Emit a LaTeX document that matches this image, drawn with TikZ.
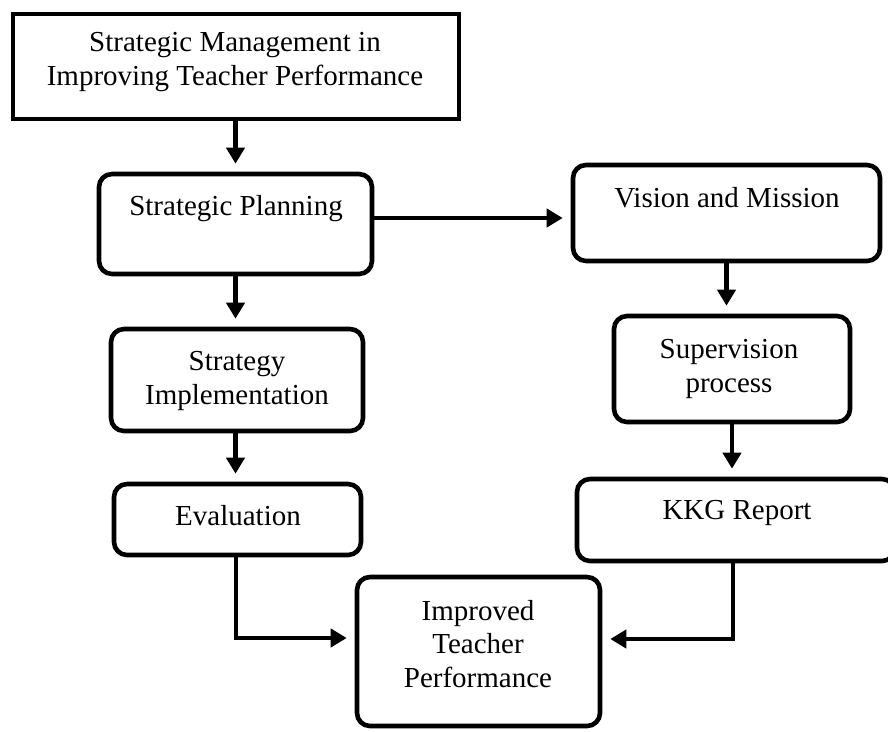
\documentclass[tikz,border=0pt]{standalone}
\usepackage{fontspec}
\setmainfont{Liberation Serif}
\usetikzlibrary{arrows.meta}
\tikzset{
  box/.style={draw, line width=4.6pt, rounded corners=13pt, inner sep=0pt},
  sbox/.style={draw, line width=4.6pt, inner sep=0pt},
  txt/.style={align=center, inner sep=0pt, anchor=base, font=\fontsize{29pt}{33.5pt}\selectfont},
  arr/.style={line width=4.6pt, -{Triangle[length=16pt,width=18pt]}, shorten >=8pt}
}
\begin{document}
\begin{tikzpicture}[x=1pt,y=-1pt]
\useasboundingbox (0,0) rectangle (888,731);
% boxes
\node[sbox, minimum width=446pt, minimum height=105pt] (top) at (236,66.5) {};
\node[box, minimum width=273pt, minimum height=100pt] (sp) at (235.5,224) {};
\node[box, minimum width=252pt, minimum height=102pt] (si) at (237,380) {};
\node[box, minimum width=247pt, minimum height=71pt] (ev) at (237.5,519.5) {};
\node[box, minimum width=307pt, minimum height=96pt] (vm) at (726.5,213) {};
\node[box, minimum width=236pt, minimum height=106pt] (sup) at (732,369) {};
\node[box, minimum width=318pt, minimum height=82pt] (kkg) at (736,520) {};
\node[box, minimum width=243pt, minimum height=149pt] (imp) at (478.5,651.5) {};
% texts (anchor = baseline of last line)
\node[txt] (topt) at (235,85) {Strategic Management in\\Improving Teacher Performance};
\node[txt] (spt) at (236,215) {Strategic Planning};
\node[txt] (vmt) at (727,207) {Vision and Mission};
\node[txt] (supt) at (729,392) {Supervision\\process};
\node[txt] (sit) at (237,404) {Strategy\\Implementation};
\node[txt] (evt) at (238,525) {Evaluation};
\node[txt] (kkgt) at (737,519) {KKG Report};
\node[txt] (impt) at (478,687) {Improved\\Teacher\\Performance};
% connectors
\draw[arr] (top.south -| sp.north) -- (sp.north);
\draw[arr] (sp.south) -- (sp.south |- si.north);
\draw[arr] (si.south -| sp.south) -- (sp.south |- ev.north);
\draw[arr] ([yshift=6pt]sp.east) -- ([yshift=6pt]sp.east -| vm.west);
\draw[arr] (vm.south) -- (vm.south |- sup.north);
\draw[arr] (sup.south) -- (sup.south |- kkg.north);
\draw[arr] ([xshift=-1.5pt]ev.south) |- ([yshift=13.5pt]imp.west);
\draw[arr] ([xshift=-3pt]kkg.south) |- ([yshift=12.5pt]imp.east);
\end{tikzpicture}
\end{document}
